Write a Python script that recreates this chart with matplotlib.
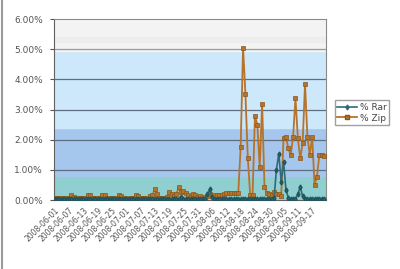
import pandas as pd
import matplotlib.pyplot as plt
from matplotlib.ticker import FuncFormatter
from matplotlib.lines import Line2D

# dias de 2008-06-01 a 2008-09-22
datas = pd.date_range('2008-06-01', '2008-09-22', freq='D')

zip_pct = [
    0.08, 0.06, 0.05, 0.05, 0.06, 0.05, 0.08, 0.17, 0.10, 0.06,
    0.05, 0.05, 0.06, 0.08, 0.17, 0.16, 0.06, 0.05, 0.05, 0.06,
    0.17, 0.15, 0.06, 0.05, 0.05, 0.05, 0.08, 0.17, 0.14, 0.05,
    0.05, 0.04, 0.05, 0.06, 0.17, 0.12, 0.05, 0.05, 0.05, 0.06,
    0.12, 0.15, 0.38, 0.20, 0.06, 0.05, 0.05, 0.10, 0.27, 0.20,
    0.12, 0.20, 0.42, 0.27, 0.30, 0.23, 0.15, 0.10, 0.20, 0.18,
    0.10, 0.12, 0.08, 0.10, 0.13, 0.20, 0.12, 0.15, 0.18, 0.16,
    0.18, 0.20, 0.22, 0.22, 0.23, 0.23, 0.24, 0.23, 1.75, 5.05,
    3.53, 1.39, 0.17, 0.17, 2.80, 2.48, 1.09, 3.20, 0.44, 0.23,
    0.20, 0.15, 0.25, 0.20, 0.20, 0.13, 2.04, 2.08, 1.71, 1.49,
    2.10, 3.37, 2.04, 1.38, 1.88, 3.86, 2.10, 1.49, 2.10, 0.50,
    0.77, 1.49, 1.49, 1.45,
]

rar_pct = [0.02] * len(datas)
picos_rar = {53: 0.10, 64: 0.20, 65: 0.35, 66: 0.10, 92: 0.05, 93: 1.00,
             94: 1.54, 95: 0.60, 96: 1.27, 97: 0.33, 98: 0.08, 102: 0.20,
             103: 0.44, 104: 0.12}
for i, v in picos_rar.items():
    rar_pct[i] = v

rotulos = [d.strftime('%Y-%m-%d') for d in datas[::6]]

fig = plt.figure(figsize=(4, 2.69), dpi=100)
ax = fig.add_axes([0.135, 0.2565, 0.68, 0.6725])

# fundo em faixas
ax.axhspan(0, 0.8, color='#8fcfd0', zorder=0)
ax.axhspan(0.8, 2.4, color='#a5c7ee', zorder=0)
ax.axhspan(2.4, 4.95, color='#cde8fb', zorder=0)
ax.axhspan(4.95, 6, color='#f3f3f3', zorder=0)
ax.axhspan(5.25, 5.4, color='#ededed', zorder=0)

for g in range(1, 6):
    ax.axhline(g, color='#5e6e80' if g < 5 else '#9a9a9a', lw=0.9, zorder=1)

x = list(range(len(datas)))
ax.plot(x, zip_pct, color='#b5732b', lw=1.3, marker='s', ms=3,
        mec='#8c5518', mew=0.5, zorder=3, label='% Zip')
ax.plot(x, rar_pct, color='#2f6b75', lw=1.2, marker='d', ms=2.5,
        mec='#22535b', zorder=4, label='% Rar')

ax.set_xlim(-0.3, 113.8)
ax.set_ylim(0, 6)
ax.set_yticks(range(0, 7))
ax.yaxis.set_major_formatter(FuncFormatter(lambda v, p: f'{v:.2f}%'))
ax.set_xticks(x[::6])
ax.set_xticklabels(rotulos, rotation=45, ha='right', rotation_mode='anchor')
ax.tick_params(axis='x', length=0, labelsize=5.5, colors='#555555', pad=4)
ax.tick_params(axis='y', length=3, labelsize=6.5, colors='#555555', pad=5)

for lado in ['top', 'right']:
    ax.spines[lado].set_color('#8a8a8a')
ax.spines['left'].set_color('#606060')
ax.spines['bottom'].set_color('#606060')

h_rar = Line2D([], [], color='#2f6b75', lw=1.2, marker='d', ms=2.5)
h_zip = Line2D([], [], color='#b5732b', lw=1.3, marker='s', ms=3, mec='#8c5518')
leg = fig.legend([h_rar, h_zip], ['% Rar', '% Zip'], loc='upper left',
                 bbox_to_anchor=(0.825, 0.645), fontsize=6.5, frameon=True,
                 fancybox=False, edgecolor='#888888', handlelength=2.2,
                 borderpad=0.3, labelspacing=0.2, handletextpad=0.3)
for t in leg.get_texts():
    t.set_color('#444444')

fig.add_artist(Line2D([0.004, 0.004], [0, 1], color='#9a9a9a', lw=1.5))

plt.savefig('out.png')
